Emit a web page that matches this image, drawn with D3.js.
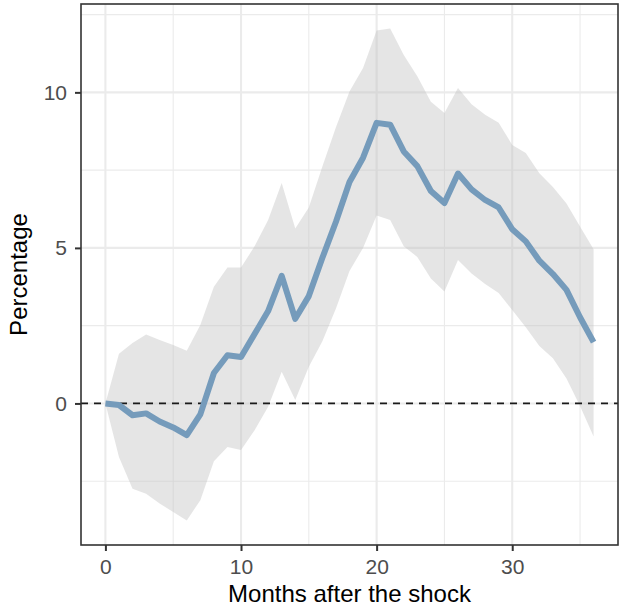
<!DOCTYPE html>
<html>
<head>
<meta charset="utf-8">
<script src="https://cdn.jsdelivr.net/npm/d3@7"></script>
<style>
  html, body { margin: 0; padding: 0; background: #fff; }
  svg { display: block; font-family: "Liberation Sans", Arial, sans-serif; }
</style>
</head>
<body>
<svg id="chart" width="621" height="613"></svg>
<script>
// ========= Data
const months = d3.range(0, 37);
const irf = [
  0, -0.05, -0.38, -0.32, -0.58, -0.77, -1.02, -0.35, 0.98, 1.55,
  1.49, 2.23, 2.97, 4.10, 2.72, 3.45, 4.68, 5.84, 7.12, 7.90,
  9.02, 8.96, 8.10, 7.63, 6.83, 6.44, 7.39, 6.88, 6.54, 6.30,
  5.60, 5.21, 4.59, 4.16, 3.65, 2.77, 1.97
];
const upper = [
  0, 1.60, 1.94, 2.22, 2.04, 1.88, 1.69, 2.52, 3.75, 4.37,
  4.37, 5.05, 5.90, 7.09, 5.62, 6.30, 7.62, 8.88, 10.03, 10.78,
  11.99, 12.05, 11.20, 10.52, 9.70, 9.34, 10.14, 9.62, 9.28, 9.02,
  8.31, 8.05, 7.40, 6.96, 6.43, 5.69, 4.96
];
const lower = [
  0, -1.72, -2.74, -2.90, -3.22, -3.49, -3.76, -3.11, -1.86, -1.40,
  -1.50, -0.86, -0.11, 1.02, 0.11, 1.18, 2.00, 3.05, 4.26, 5.00,
  6.04, 5.90, 5.05, 4.71, 4.02, 3.60, 4.61, 4.18, 3.84, 3.55,
  3.00, 2.45, 1.85, 1.45, 0.80, -0.08, -1.06
];
const xMajor = [0, 10, 20, 30];
const xMinor = [5, 15, 25, 35];
const yMajor = [0, 5, 10];
const yMinor = [-2.5, 2.5, 7.5, 12.5];

const rows = months.map((m, i) => ({ m, v: irf[i], lo: lower[i], hi: upper[i] }));

// ========= Layout
const svg = d3.select("#chart");
const panel = { left: 81, right: 618, top: 4, bottom: 545 };

// ggplot-like 5% expansion
const xExt = d3.extent(months);
const xPad = (xExt[1] - xExt[0]) * 0.05;
const yExt = [d3.min(lower), d3.max(upper)];
const yPad = (yExt[1] - yExt[0]) * 0.05;

const x = d3.scaleLinear().domain([xExt[0] - xPad, xExt[1] + xPad]).range([panel.left, panel.right]);
const y = d3.scaleLinear().domain([yExt[0] - yPad, yExt[1] + yPad]).range([panel.bottom, panel.top]);

// ========= Grid
const grid = svg.append("g");
grid.selectAll("line.xminor").data(xMinor).enter().append("line")
  .attr("x1", d => x(d)).attr("x2", d => x(d))
  .attr("y1", panel.top).attr("y2", panel.bottom)
  .attr("stroke", "#ebebeb").attr("stroke-width", 1.1);
grid.selectAll("line.yminor").data(yMinor).enter().append("line")
  .attr("y1", d => y(d)).attr("y2", d => y(d))
  .attr("x1", panel.left).attr("x2", panel.right)
  .attr("stroke", "#ebebeb").attr("stroke-width", 1.1);
grid.selectAll("line.xmajor").data(xMajor).enter().append("line")
  .attr("x1", d => x(d)).attr("x2", d => x(d))
  .attr("y1", panel.top).attr("y2", panel.bottom)
  .attr("stroke", "#ebebeb").attr("stroke-width", 2.1);
grid.selectAll("line.ymajor").data(yMajor).enter().append("line")
  .attr("y1", d => y(d)).attr("y2", d => y(d))
  .attr("x1", panel.left).attr("x2", panel.right)
  .attr("stroke", "#ebebeb").attr("stroke-width", 2.1);

// ========= Ribbon
const area = d3.area()
  .x(d => x(d.m))
  .y0(d => y(d.lo))
  .y1(d => y(d.hi));
svg.append("path")
  .datum(rows)
  .attr("d", area)
  .attr("fill", "#bdbdbd")
  .attr("fill-opacity", 0.4);

// ========= Zero reference line
svg.append("line")
  .attr("x1", panel.left).attr("x2", panel.right)
  .attr("y1", y(0)).attr("y2", y(0))
  .attr("stroke", "#1a1a1a")
  .attr("stroke-width", 1.8)
  .attr("stroke-dasharray", "7,6");

// ========= Response line
const line = d3.line().x(d => x(d.m)).y(d => y(d.v));
svg.append("path")
  .datum(rows)
  .attr("d", line)
  .attr("fill", "none")
  .attr("stroke", "#759bbb")
  .attr("stroke-width", 6)
  .attr("stroke-linejoin", "round");

// ========= Panel border
svg.append("rect")
  .attr("x", panel.left).attr("y", panel.top)
  .attr("width", panel.right - panel.left)
  .attr("height", panel.bottom - panel.top)
  .attr("fill", "none")
  .attr("stroke", "#333")
  .attr("stroke-width", 1.6);

// ========= Axes
const xAxis = svg.append("g")
  .attr("transform", `translate(0,${panel.bottom})`)
  .call(d3.axisBottom(x).tickValues(xMajor).tickSize(6).tickPadding(8));
const yAxis = svg.append("g")
  .attr("transform", `translate(${panel.left},0)`)
  .call(d3.axisLeft(y).tickValues(yMajor).tickSize(6).tickPadding(8));

[xAxis, yAxis].forEach(a => {
  a.select(".domain").remove();
  a.selectAll(".tick line").attr("stroke", "#333").attr("stroke-width", 2);
  a.selectAll(".tick text")
    .attr("fill", "#4d4d4d")
    .style("font-size", "21px")
    .style("font-family", "'Liberation Sans', Arial, sans-serif");
});

// ========= Axis titles
svg.append("text")
  .attr("x", (panel.left + panel.right) / 2)
  .attr("y", 602)
  .attr("text-anchor", "middle")
  .attr("fill", "#000")
  .style("font-size", "24px")
  .text("Months after the shock");

svg.append("text")
  .attr("transform", `translate(27,${(panel.top + panel.bottom) / 2}) rotate(-90)`)
  .attr("text-anchor", "middle")
  .attr("fill", "#000")
  .style("font-size", "24px")
  .text("Percentage");
</script>
</body>
</html>
